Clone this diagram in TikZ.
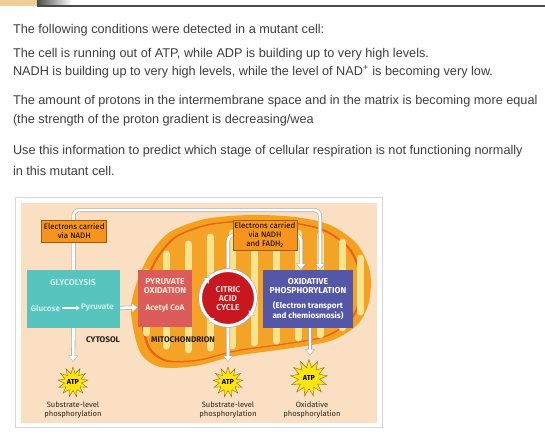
\documentclass[tikz,border=0pt]{standalone}
\usepackage{fontspec}
\setmainfont{Liberation Sans}
\newfontfamily\dfont{Fira Sans}
\usetikzlibrary{arrows.meta,shapes.geometric,calc,backgrounds}

\definecolor{ink}{HTML}{3E3E3E}
\definecolor{tanstrip}{HTML}{F0CD98}
\definecolor{stripline}{HTML}{4A4A4A}
\definecolor{peach}{HTML}{FADFC2}
\definecolor{frameline}{HTML}{D6D6D6}
\definecolor{mitoA}{HTML}{F5A11F}
\definecolor{mitoB}{HTML}{EA621C}
\definecolor{mitoC}{HTML}{F4A326}
\definecolor{crista}{HTML}{F8E38E}
\definecolor{glyteal}{HTML}{58C4BE}
\definecolor{glytext}{HTML}{C9EDE9}
\definecolor{pyrred}{HTML}{DB5C5A}
\definecolor{pyrtext}{HTML}{FCE7D8}
\definecolor{cacred}{HTML}{C8171E}
\definecolor{cactext}{HTML}{FAD8D2}
\definecolor{oxblue}{HTML}{5457A8}
\definecolor{tagorange}{HTML}{F7941D}
\definecolor{tagedge}{HTML}{9C5A12}
\definecolor{atpyellow}{HTML}{FFE414}
\definecolor{atpedge}{HTML}{8C6E00}
\definecolor{pipeedge}{HTML}{A8A8A8}
\definecolor{labelink}{HTML}{2A211C}

\tikzset{
  every node/.style={inner sep=0pt, outer sep=0pt},
  body/.style={anchor=base west, text=ink, font=\fontsize{12.7}{14}\selectfont},
  stagebox/.style={rectangle},
  stagetext/.style={align=center, font=\dfont\bfseries\fontsize{8.6}{9}\selectfont},
  subtext/.style={align=center, font=\dfont\bfseries\fontsize{8.1}{8.6}\selectfont},
  tag/.style={rectangle, fill=tagorange, draw=tagedge, line width=0.5pt, align=center,
              text=black, font=\dfont\fontsize{7.9}{9.4}\selectfont},
  atp/.style={star, star points=13, star point ratio=1.75, fill=atpyellow, draw=atpedge,
              line width=0.4pt, font=\dfont\bfseries\fontsize{7.2}{8}\selectfont, text=black},
  caption/.style={align=center, text=labelink, font=\dfont\fontsize{7.6}{8.6}\selectfont},
  region/.style={text=labelink, font=\dfont\bfseries\fontsize{8.2}{9}\selectfont},
  pipeback/.style={draw=pipeedge, line width=4pt, rounded corners=6pt},
  pipefront/.style={draw=white, line width=2.8pt, rounded corners=6pt},
  backtip/.style={-{Triangle[width=9.5pt,length=6.5pt]}},
  fronttip/.style={-{Triangle[width=7.5pt,length=5pt]}, shorten >=0.9pt},
}

\def\mitopath{plot[smooth cycle] coordinates {(131,312) (137,282) (150,254) (170,232)
  (205,219) (250,215) (295,217) (330,225) (357,244) (370,272) (369,302) (357,325)
  (330,341) (285,349) (235,356) (195,366) (160,367) (140,352)}}

\begin{document}
\begin{tikzpicture}[x=1pt,y=-1pt]
\useasboundingbox (0,0) rectangle (545,439);

\begin{pgfonlayer}{background}
  \fill[white] (0,0) rectangle (545,439);
  % header strip
  \fill[tanstrip] (0,0) rectangle (36.5,5.5);
  \shade[left color=black!70, right color=white] (37,0) rectangle (72,5.5);
  \draw[stripline, line width=1pt] (37.5,0) -- (37.5,6);
  \draw[stripline, line width=1.2pt] (37,6) -- (545,6);

  % diagram frame
  \draw[frameline, line width=0.8pt, fill=white] (15,197) rectangle (382,427);
  \fill[peach] (21,203) rectangle (377,423);

  % mitochondrion: outer membrane, inner membrane band, matrix with cristae
  \fill[mitoA] \mitopath;
  \begin{scope}[scale around={0.93:(250,290)}]
    \fill[mitoB] \mitopath;
  \end{scope}
  \begin{scope}[scale around={0.91:(250,290)}]
    \fill[mitoC] \mitopath;
  \end{scope}
  \begin{scope}
    \begin{scope}[scale around={0.86:(250,290)}]
      \clip \mitopath;
    \end{scope}
    \foreach \cx/\ctop/\cbot in {146/272/333, 166/254/346, 188/244/350, 210/237/348,
        232/233/346, 254/231/343, 276/231/341, 298/233/338, 320/235/335, 342/242/328, 360/258/312}
      \draw[crista, line width=7pt, line cap=round] (\cx,\ctop) -- (\cx,\cbot);
  \end{scope}
\end{pgfonlayer}

% question text
\node[body] (t1) at (13,33) {The following conditions were detected in a mutant cell:};
\node[body] (t2) at (13,57) {The cell is running out of ATP, while ADP is building up to very high levels.};
\node[body] (t3) at (13,75) {NADH is building up to very high levels, while the level of NAD\textsuperscript{+} is becoming very low.};
\node[body] (t4) at (13,104) {The amount of protons in the intermembrane space and in the matrix is becoming more equal};
\node[body] (t5) at (13,123) {(the strength of the proton gradient is decreasing/wea};
\node[body] (t6) at (13,154) {Use this information to predict which stage of cellular respiration is not functioning normally};
\node[body] (t7) at (13,175) {in this mutant cell.};

% stage boxes
\node[stagebox, fill=glyteal, minimum width=93pt, minimum height=58pt] (glyc) at (73.5,299) {};
\node[stagetext, text=glytext] (glyhead) at (73,283) {GLYCOLYSIS};
\node[subtext, text=glytext, anchor=east] (glucose) at (60,308) {Glucose};
\node[subtext, text=glytext, anchor=west] (pyruvate) at (81,308) {Pyruvate};

\node[stagebox, fill=pyrred, minimum width=54pt, minimum height=57pt] (pyr) at (165,298.5) {};
\node[stagetext, text=pyrtext] (pyrhead) at (165,286) {PYRUVATE\\OXIDATION};
\node[subtext, text=pyrtext] (acetyl) at (165,308) {Acetyl CoA};

\node[circle, fill=cacred, draw=white, line width=3pt, minimum size=55pt,
      preaction={draw=pipeedge, line width=4.2pt}] (cac) at (228,298) {};
\node[stagetext, text=cactext] (cactext) at (228,298.5) {CITRIC\\ACID\\CYCLE};

\node[stagebox, fill=oxblue, minimum width=90pt, minimum height=58pt] (ox) at (308,299) {};
\node[stagetext, text=white] (oxhead) at (308,286.5) {OXIDATIVE\\PHOSPHORYLATION};
\node[subtext, text=white] (oxsub) at (308,311) {(Electron transport\\and chemiosmosis)};

% electron-carrier tags
\node[tag, minimum width=65pt, minimum height=22pt] (lab1) at (74.2,231) {Electrons carried\\via NADH};
\node[tag, minimum width=64.5pt, minimum height=30pt] (lab2) at (265,235) {Electrons carried\\via NADH\\and FADH\textsubscript{2}};

% ATP bursts and captions
\node[atp, minimum size=28pt] (atp1) at (73,382) {ATP};
\node[atp, minimum size=28pt] (atp2) at (228,382) {ATP};
\node[atp, minimum size=37pt] (atp3) at (309,378) {ATP};
\node[caption] (cap1) at (73,410) {Substrate-level\\phosphorylation};
\node[caption] (cap2) at (228,410) {Substrate-level\\phosphorylation};
\node[caption] (cap3) at (312,410) {Oxidative\\phosphorylation};

\node[region] (cytosol) at (103,340) {CYTOSOL};
\node[region] (mito) at (183,340) {MITOCHONDRION};

% white arrows around the citric acid cycle ring
\foreach \ang in {42,135,228} {
  \draw[draw=pipeedge, line width=2.4pt, -{Triangle[width=8pt,length=5pt]}]
    ([shift={(\ang-24:27.5)}]cac.center) arc[start angle=\ang-24, end angle=\ang, radius=27.5];
  \draw[draw=white, line width=3pt, -{Triangle[width=6.4pt,length=4pt]}, shorten >=0.7pt]
    ([shift={(\ang-24:27.5)}]cac.center) arc[start angle=\ang-24, end angle=\ang, radius=27.5];
}

% connectors
\coordinate (topbend) at (200,210);
\begin{pgfonlayer}{background}
  % electrons from glycolysis to oxidative phosphorylation
  \draw[pipeback, backtip] (glyc.north) |- (topbend) -| ([xshift=12pt]ox.north);
  \draw[pipefront, fronttip] (glyc.north) |- (topbend) -| ([xshift=12pt]ox.north);
  % electrons from the citric acid cycle
  \draw[pipeback, backtip] (cac.north) |- (lab2.center) -| ([xshift=-7pt]ox.north);
  \draw[pipefront, fronttip] (cac.north) |- (lab2.center) -| ([xshift=-7pt]ox.north);
  % pyruvate into the mitochondrion
  \draw[pipeback, backtip] ($(glyc.east)+(0,9)$) -- ($(pyr.west)+(0,9)$);
  \draw[pipefront, fronttip] ($(glyc.east)+(0,9)$) -- ($(pyr.west)+(0,9)$);
  % ATP outputs
  \draw[pipeback, backtip, shorten >=5pt] (glyc.south) -- (atp1.north);
  \draw[pipefront, fronttip, shorten >=5.9pt] (glyc.south) -- (atp1.north);
  \draw[pipeback, backtip, shorten >=5pt] (cac.south) -- (atp2.north);
  \draw[pipefront, fronttip, shorten >=5.9pt] (cac.south) -- (atp2.north);
  \draw[pipeback, backtip, shorten >=4pt] ([xshift=2pt]ox.south) -- ([xshift=2pt]ox.south |- atp3.north);
  \draw[pipefront, fronttip, shorten >=4.9pt] ([xshift=2pt]ox.south) -- ([xshift=2pt]ox.south |- atp3.north);
\end{pgfonlayer}
\draw[white, line width=1.8pt, -{Triangle[width=5pt,length=3.5pt]}, shorten <=1.5pt, shorten >=1.5pt]
  (glucose) -- (pyruvate);
\end{tikzpicture}
\end{document}
